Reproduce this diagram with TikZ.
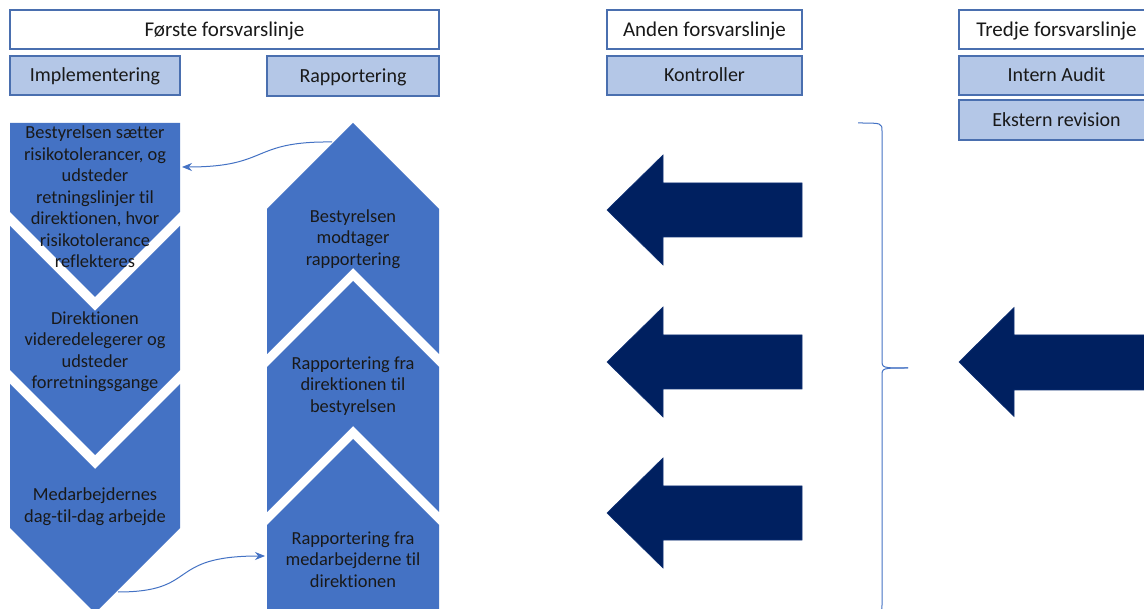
\documentclass[tikz,border=0pt]{standalone}
\usepackage{fontspec}
\setmainfont{Carlito}[Ligatures={NoCommon,NoContextual}]
\usetikzlibrary{arrows.meta}
\definecolor{chev}{HTML}{4472C4}
\definecolor{subfill}{HTML}{B4C7E7}
\definecolor{boxline}{HTML}{4A6FAF}
\definecolor{navy}{HTML}{002060}
\definecolor{conncol}{HTML}{4472C4}
\tikzset{
  hdr/.style={draw=boxline, line width=1.3pt, fill=white, inner sep=0pt,
    font=\fontsize{21}{24}\selectfont, text=black!90, text height=16pt, text depth=2pt},
  sub/.style={hdr, fill=subfill, font=\fontsize{20}{24}\selectfont, text height=15pt, text depth=2pt},
  chevshape/.style={fill=chev, draw=none},
  chevtext/.style={align=center, inner sep=0pt, font=\fontsize{18.4}{21.5}\selectfont, text=black!90},
  bigarrow/.style={fill=navy, draw=navy!80!chev, line width=0.6pt},
  conn/.style={draw=conncol, line width=1pt, -{Stealth[length=10pt,width=8pt]}},
  bracecol/.style={draw=conncol, line width=1pt}
}
\begin{document}
\begin{tikzpicture}[x=1pt,y=-1pt]
\clip (0,0) rectangle (1144,609);
\fill[white] (0,0) rectangle (1144,609);

% header boxes
\node[hdr, minimum width=429, minimum height=39] (first) at (224.5,29.5) {Første forsvarslinje};
\node[sub, minimum width=170, minimum height=39] (impl) at (95,75.5) {Implementering};
\node[sub, minimum width=172, minimum height=40] (rapp) at (353,76) {Rapportering};
\node[hdr, minimum width=195, minimum height=39] (second) at (704.5,29.5) {Anden forsvarslinje};
\node[sub, minimum width=195, minimum height=39] (kontr) at (704.5,75.5) {Kontroller};
\node[hdr, minimum width=195, minimum height=39] (third) at (1056.5,29.5) {Tredje forsvarslinje};
\node[sub, minimum width=195, minimum height=39] (intern) at (1056.5,75.5) {Intern Audit};
\node[sub, minimum width=195, minimum height=40] (ekstern) at (1056.5,120) {Ekstern revision};

% left chevrons (pointing down)
\path[chevshape] (10,123) -- (180,123) -- (180,212) -- (95,297) -- (10,212) -- cycle;
\path[chevshape] (10,226) -- (95,311) -- (180,226) -- (180,370) -- (95,455) -- (10,370) -- cycle;
\path[chevshape] (10,384) -- (95,469) -- (180,384) -- (180,528) -- (95,613) -- (10,528) -- cycle;

% right chevrons (pointing up)
\path[chevshape] (353,123) -- (439,209) -- (439,354) -- (353,268) -- (267,354) -- (267,209) -- cycle;
\path[chevshape] (353,281) -- (439,367) -- (439,512) -- (353,426) -- (267,512) -- (267,367) -- cycle;
\path[chevshape] (353,439) -- (439,525) -- (439,620) -- (267,620) -- (267,525) -- cycle;

% chevron texts
\node[chevtext] (l1) at (95,197) {Bestyrelsen sætter\\risikotolerancer, og\\udsteder\\retningslinjer til\\direktionen, hvor\\risikotolerance\\reflekteres};
\node[chevtext] (l2) at (95,351.5) {Direktionen\\videredelegerer og\\udsteder\\forretningsgange};
\node[chevtext] (l3) at (95,506.5) {Medarbejdernes\\dag-til-dag arbejde};
\node[chevtext] (r1) at (353,239) {Bestyrelsen\\modtager\\rapportering};
\node[chevtext] (r2) at (353,386) {Rapportering fra\\direktionen til\\bestyrelsen};
\node[chevtext] (r3) at (353,559.5) {Rapportering fra\\medarbejderne til\\direktionen};

% connectors
\coordinate (c1s) at (332,142);
\coordinate (c1e) at (182,167);
\draw[conn] (c1s) .. controls (250,141) and (270,167) .. (c1e);
\coordinate (c2s) at (118,592);
\coordinate (c2e) at (265,556);
\draw[conn] (c2s) .. controls (200,592) and (165,556) .. (c2e);

% big navy arrows
\foreach \cy in {210,362,513}{
  \path[bigarrow] (607,\cy) -- (663,\cy-55) -- (663,\cy-27) -- (802,\cy-27)
    -- (802,\cy+27) -- (663,\cy+27) -- (663,\cy+55) -- cycle;
}
\path[bigarrow] (959,362) -- (1014,307.5) -- (1014,335) -- (1150,335)
  -- (1150,390) -- (1014,390) -- (1014,416.5) -- cycle;

% brace
\draw[bracecol] (858,123) .. controls (882,123) .. (882,131) -- (882,360)
  .. controls (882,368) .. (908,368);
\draw[bracecol] (908,368) .. controls (882,368) .. (882,376) -- (882,605)
  .. controls (882,613) .. (858,613);
\end{tikzpicture}
\end{document}
